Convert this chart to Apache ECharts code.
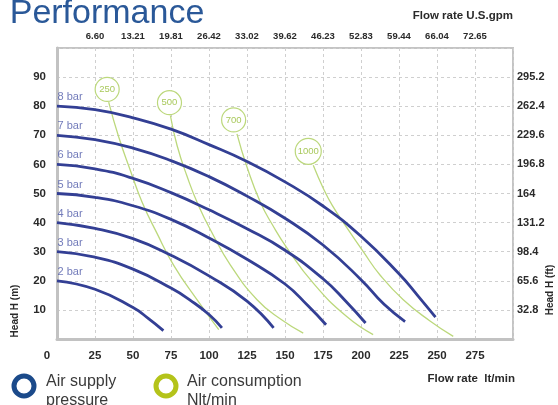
<!DOCTYPE html>
<html><head><meta charset="utf-8">
<script src="https://cdn.jsdelivr.net/npm/echarts@6/dist/echarts.min.js"></script>
<style>html,body{margin:0;padding:0;background:#fff}#c{width:558px;height:405px}</style>
</head><body><div id="c"></div>
<script>
// ---- data (x = flow rate lt/min, y = head m) ----
const gpmLabels = ['6.60','13.21','19.81','26.42','33.02','39.62','46.23','52.83','59.44','66.04','72.65'];
const ftLabels = ['32.8','65.6','98.4','131.2','164','196.8','229.6','262.4','295.2'];
const pressureNames = ['2 bar','3 bar','4 bar','5 bar','6 bar','7 bar','8 bar'];
const pressureStart = [20,30,40,50,60,70,80];
const bar2 = [[0,20],[25,17.1],[50,10.8],[60,7.1],[70,2.9]];
const bar3 = [[0,30],[25,28.1],[50,24],[75,17.5],[88,13.2],[100,8.4],[108.5,3.8]];
const bar4 = [[0,40],[25,38],[50,34.5],[75,28.8],[100,21.7],[125,13],[142.5,3.8]];
const bar5 = [[0,50],[25,48.7],[50,45.8],[75,41.1],[100,34.7],[125,27.4],[150,18.9],[165,11.5],[177,4.9]];
const bar6 = [[0,60],[25,58.5],[50,55.2],[75,50.3],[100,44.4],[125,37.9],[150,30.5],[175,20.7],[190,13],[203,5.5]];
const bar7 = [[0,70],[25,68.5],[50,65.6],[75,61.3],[100,55.8],[125,49.1],[150,41.5],[175,32.3],[200,20.4],[215,12],[229,6]];
const bar8 = [[0,80],[25,78.8],[50,76],[75,72.1],[100,66.8],[125,61],[150,54],[175,45.7],[200,35.3],[225,22.4],[238,14.5],[249,7.5]];
const pressureSeries = [bar2,bar3,bar4,bar5,bar6,bar7,bar8];

const airNames = ['250','500','700','1000'];
const airBubble = [[33,85.8],[74,81.2],[116.2,75.3],[165.3,64.5]];
const air250 = [[34,81.4],[40.6,69.4],[48.2,58],[56,47],[65.8,36.3],[76.8,25.3],[92.1,13.5],[106.4,3.2]];
const air500 = [[74.6,76.8],[79,66.5],[85.5,56],[93,46],[103,35.5],[114,25.5],[131.6,13.5],[148,6.5],[162,2]];
const air700 = [[118.4,70.5],[125,59.1],[133.8,47],[142,39],[151,31.5],[168.6,19.2],[190.6,7.7],[208,1.5]];
const air1000 = [[168.6,59.7],[175,52],[181,46],[191,38],[201.5,30],[212.5,22],[227.8,13.5],[245.4,6.2],[260.7,0.9]];
const airSeries = [air250,air500,air700,air1000];

// ---- styling ----
const BLUE = '#333f94', BLUE_LBL = '#4f5aa9', GREEN = '#bcd87c', GREEN_TXT = '#a9c95c';
const FONT = '"Liberation Sans", Arial, sans-serif';
const LBL = {color:'#2a2a2a', fontWeight:'bold', fontFamily:FONT};

const chart = echarts.init(document.getElementById('c'), null, {renderer:'canvas'});
const series = [];
pressureSeries.forEach((d,i)=>{
  series.push({type:'line', name:pressureNames[i], data:d, smooth:0.5, symbol:'none',
    lineStyle:{color:BLUE, width:2.8}, z:3});
});
airSeries.forEach((d,i)=>{
  series.push({type:'line', name:airNames[i], data:d, smooth:0.5, symbol:'none',
    lineStyle:{color:GREEN, width:1.3}, z:2,
    markPoint:{symbol:'circle', symbolSize: i===3?26:24,
      itemStyle:{color:'#fff', borderColor:GREEN, borderWidth:1.2},
      label:{show:true, position:'inside', formatter:airNames[i], color:GREEN_TXT, fontSize:9.5, fontFamily:FONT},
      data:[{coord:airBubble[i]}]}});
});
series.push({type:'scatter', data:pressureStart.map(v=>[0,v]), symbolSize:1,
  itemStyle:{color:'rgba(0,0,0,0)'}, z:4, silent:true,
  label:{show:true, position:'right', distance:0, offset:[0,-9],
    formatter:p=>pressureNames[p.dataIndex], color:BLUE_LBL, fontSize:11, fontFamily:FONT}});

const dashed = {show:true, lineStyle:{color:'#cfcfcf', type:[3,3], width:1}};
chart.setOption({
  animation:false,
  grid:{left:57, right:45, top:48, bottom:66, show:true, borderColor:'#c4c4c4', borderWidth:2},
  xAxis:[
    {type:'value', min:0, max:300, interval:25, position:'bottom',
     axisLine:{show:true, onZero:false, lineStyle:{color:'#c2c2c2', width:3}}, axisTick:{show:false},
     splitLine:dashed,
     axisLabel:{...LBL, fontSize:11.5, margin:11,
       formatter:v=> v===0 ? '{z|0}' : (v<300 ? String(v) : ''),
       rich:{z:{...LBL, fontSize:11.5, padding:[0,20,0,0]}}}},
    {type:'value', min:0, max:300, interval:25, position:'top',
     axisLine:{show:false}, axisTick:{show:false}, splitLine:{show:false},
     axisLabel:{...LBL, fontSize:9.5, margin:7,
       formatter:v=> (v>=25 && v<=275) ? gpmLabels[v/25-1] : ''}}
  ],
  yAxis:[
    {type:'value', min:0, max:100, interval:10, position:'left',
     axisLine:{show:true, lineStyle:{color:'#c2c2c2', width:3}}, axisTick:{show:false},
     splitLine:dashed,
     axisLabel:{...LBL, fontSize:11.5, margin:11, formatter:v=> (v>0 && v<100) ? String(v) : ''}},
    {type:'value', min:0, max:100, interval:10, position:'right',
     axisLine:{show:false}, axisTick:{show:false}, splitLine:{show:false},
     axisLabel:{...LBL, fontSize:11, margin:4, formatter:v=> (v>0 && v<100) ? ftLabels[v/10-1] : ''}}
  ],
  series:series,
  graphic:[
    {type:'text', left:9, top:-4, style:{text:'Performance', font:'34px ' + FONT,
      fill:'#2a5898', stroke:'#fff', lineWidth:1.4}},
    {type:'text', right:45, top:10, style:{text:'Flow rate U.S.gpm', font:'bold 11.5px ' + FONT, fill:'#2a2a2a'}},
    {type:'text', right:43, top:373, style:{text:'Flow rate  lt/min', font:'bold 11.5px ' + FONT, fill:'#2a2a2a'}},
    {type:'text', x:15, y:311, rotation:Math.PI/2, style:{text:'Head H (m)', font:'bold 10px ' + FONT, fill:'#2a2a2a', align:'center', verticalAlign:'middle'}},
    {type:'text', x:550, y:290, rotation:Math.PI/2, style:{text:'Head H (ft)', font:'bold 10px ' + FONT, fill:'#2a2a2a', align:'center', verticalAlign:'middle'}},
    {type:'circle', shape:{cx:24, cy:386, r:10}, style:{fill:'none', stroke:'#1b4a8a', lineWidth:5}},
    {type:'text', x:46, y:372, style:{text:'Air supply\npressure', font:'16px ' + FONT, lineHeight:19, fill:'#3a3a3a', stroke:'#fff', lineWidth:0.7}},
    {type:'circle', shape:{cx:166, cy:386, r:10}, style:{fill:'none', stroke:'#b4c31a', lineWidth:5}},
    {type:'text', x:187, y:372, style:{text:'Air consumption\nNlt/min', font:'16px ' + FONT, lineHeight:19, fill:'#3a3a3a', stroke:'#fff', lineWidth:0.7}}
  ]
});
</script>
</body></html>
